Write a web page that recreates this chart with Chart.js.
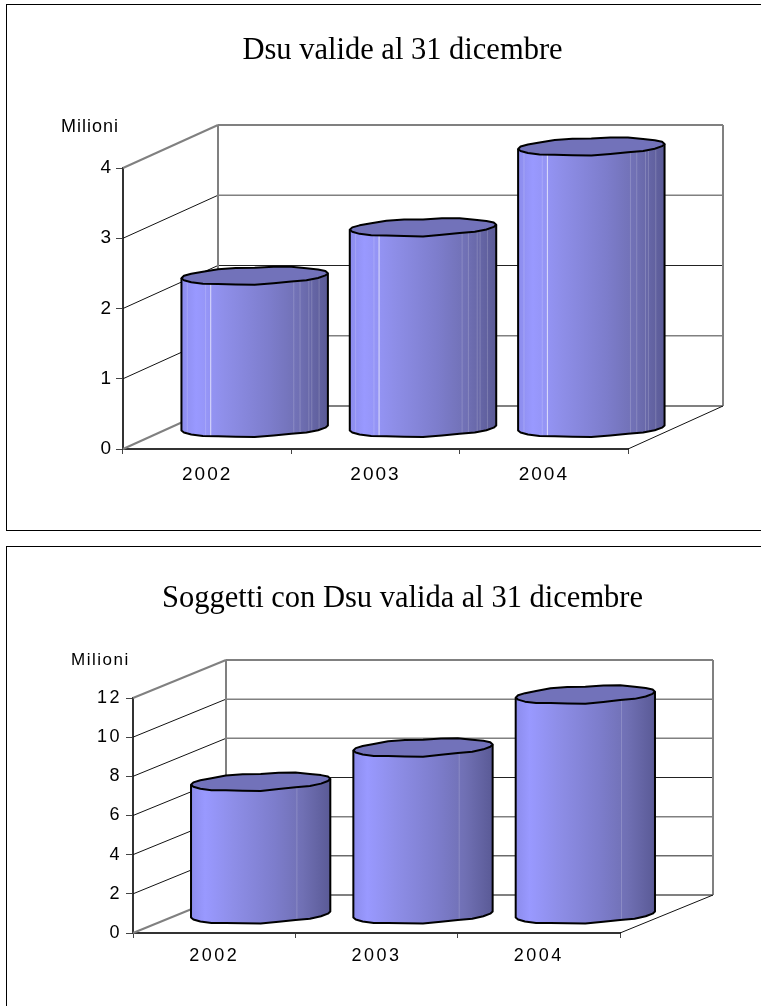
<!DOCTYPE html>
<html>
<head>
<meta charset="utf-8">
<title>Dsu</title>
<script src="https://cdn.jsdelivr.net/npm/chart.js@4"></script>
<style>
    html, body { margin: 0; padding: 0; background: #fff; width: 761px; height: 1006px; overflow: hidden; }
    canvas { position: absolute; left: 0; }
    .frame { position: absolute; left: 6px; width: 900px; border: 1px solid #000; box-sizing: border-box; }
</style>
</head>
<body>
<div class="frame" style="top:4px;height:527px"></div>
<div class="frame" style="top:546px;height:600px"></div>
<canvas id="chartDsu" width="805" height="526" style="top:4px"></canvas>
<canvas id="chartSoggetti" width="805" height="460" style="top:546px"></canvas>
<script>
const years = ['2002', '2003', '2004'];
const dsuValues = [2.16, 2.85, 4.0];
const soggettiValues = [6.75, 8.5, 11.2];
const unitLabel = 'Milioni';

const cylinder3d = {
    id: 'cylinder3d',
    afterLayout(chart) {
        // title centred on the whole canvas, and without the tick letter spacing
        const tb = chart.titleBlock;
        tb.left = 0;
        tb.right = chart.width;
        const drawTitle = tb.draw;
        tb.draw = function () {
            chart.ctx.save();
            chart.ctx.letterSpacing = '0px';
            drawTitle.call(tb);
            chart.ctx.restore();
        };
    },
    beforeDraw(chart, args, opts) {
        chart.ctx.letterSpacing = opts.letterSpacing;
    },
    beforeDatasetsDraw(chart, args, opts) {
        const ctx = chart.ctx;
        const { left, right, top, bottom } = chart.chartArea;
        const yScale = chart.scales.y;
        const dx = opts.dx, dy = opts.dy;
        ctx.save();
        // inner grid: side wall and back wall
        yScale.ticks.forEach(t => {
            const y = yScale.getPixelForValue(t.value);
            const edge = t.value === yScale.min || t.value === yScale.max;
            ctx.strokeStyle = edge ? '#808080' : '#111';
            ctx.lineWidth = edge ? 2 : 1;
            ctx.beginPath();
            ctx.moveTo(left, y);
            ctx.lineTo(left + dx, y + dy);
            ctx.stroke();
            const dark = opts.darkLines.includes(t.value);
            ctx.strokeStyle = dark ? '#222' : '#808080';
            ctx.lineWidth = dark ? 1 : (edge ? 2 : 1.5);
            ctx.beginPath();
            ctx.moveTo(left + dx, y + dy);
            ctx.lineTo(right + dx, y + dy);
            ctx.stroke();
        });
        // back wall verticals
        ctx.strokeStyle = '#808080';
        ctx.lineWidth = 2;
        ctx.beginPath();
        ctx.moveTo(left + dx, top + dy);
        ctx.lineTo(left + dx, bottom + dy);
        ctx.moveTo(right + dx, top + dy);
        ctx.lineTo(right + dx, bottom + dy);
        ctx.stroke();
        // right floor edge
        ctx.strokeStyle = '#111';
        ctx.lineWidth = 1;
        ctx.beginPath();
        ctx.moveTo(right, bottom);
        ctx.lineTo(right + dx, bottom + dy);
        ctx.stroke();
        // label above the axis
        ctx.fillStyle = '#000';
        ctx.font = opts.unitFont;
        ctx.letterSpacing = opts.unitSpacing;
        ctx.textAlign = 'left';
        ctx.textBaseline = 'middle';
        ctx.fillText(unitLabel, opts.unitX, opts.unitY);
        ctx.restore();
    },
    afterDatasetsDraw(chart, args, opts) {
        const ctx = chart.ctx;
        const bars = chart.getDatasetMeta(0).data;
        bars.forEach(bar => {
            const r = bar.width / 2;
            const cx = bar.x + opts.dx / 2;
            const topY = bar.y + opts.dy / 2;
            const baseY = bar.base + opts.dy / 2 + 1;
            const rim = (cy, from, to, n) => {
                const pts = [];
                for (let i = 0; i <= n; i++) {
                    const a = from + (to - from) * i / n;
                    const wave = opts.wave * Math.sin(a * 7);
                    pts.push([cx + r * Math.cos(a), cy - (opts.ry + wave) * Math.sin(a) - opts.tilt * Math.cos(a)]);
                }
                return pts;
            };
            const front = rim(baseY, Math.PI, Math.PI * 2, opts.facets);
            const topFront = rim(topY, Math.PI, Math.PI * 2, opts.facets);

            // body
            const grad = ctx.createLinearGradient(cx - r, 0, cx + r, 0);
            grad.addColorStop(0, '#8c8cec');
            grad.addColorStop(0.1, '#9999ff');
            grad.addColorStop(0.3, '#8e8ee8');
            grad.addColorStop(0.6, '#7d7dcc');
            grad.addColorStop(0.8, '#7070b4');
            grad.addColorStop(1, '#5a5a96');
            ctx.save();
            ctx.beginPath();
            ctx.moveTo(topFront[0][0], topFront[0][1]);
            front.forEach(p => ctx.lineTo(p[0], p[1]));
            topFront.slice().reverse().forEach(p => ctx.lineTo(p[0], p[1]));
            ctx.closePath();
            ctx.fillStyle = grad;
            ctx.fill();
            ctx.clip();
            // light seams between the facets
            opts.seams.forEach((s, i) => {
                ctx.strokeStyle = i === 0 ? opts.seamFirst : 'rgba(255,255,255,0.18)';
                ctx.lineWidth = 1;
                ctx.beginPath();
                ctx.moveTo(cx - r + s * bar.width, topY - 20);
                ctx.lineTo(cx - r + s * bar.width, baseY + 20);
                ctx.stroke();
            });
            ctx.restore();

            // outline of the body
            ctx.strokeStyle = '#000';
            ctx.lineWidth = 2;
            ctx.lineJoin = 'round';
            ctx.beginPath();
            ctx.moveTo(topFront[0][0], topFront[0][1]);
            front.forEach(p => ctx.lineTo(p[0], p[1]));
            ctx.lineTo(topFront[topFront.length - 1][0], topFront[topFront.length - 1][1]);
            ctx.stroke();

            // top
            const ring = rim(topY, 0, Math.PI * 2, opts.facets * 2);
            ctx.beginPath();
            ring.forEach((p, i) => i ? ctx.lineTo(p[0], p[1]) : ctx.moveTo(p[0], p[1]));
            ctx.closePath();
            ctx.fillStyle = '#7272ba';
            ctx.fill();
            ctx.stroke();
        });
    }
};

function makeChart(id, values, maxY, step, cfg) {
    const tickFont = { family: 'Liberation Sans', size: cfg.tickSize };
    return new Chart(document.getElementById(id), {
        type: 'bar',
        plugins: [cylinder3d],
        data: {
            labels: years,
            datasets: [{ data: values, backgroundColor: 'rgba(0,0,0,0)', barPercentage: cfg.barPercentage, categoryPercentage: 1 }]
        },
        options: {
            responsive: false,
            animation: false,
            layout: { padding: cfg.padding },
            scales: {
                x: {
                    grid: { drawOnChartArea: false, tickLength: 5, color: '#444', offset: true },
                    border: { color: '#333', width: 2 },
                    ticks: { color: '#000', font: tickFont, padding: cfg.xPad, maxRotation: 0 },
                    afterFit: s => { s.height = 40; }
                },
                y: {
                    min: 0,
                    max: maxY,
                    grid: { drawOnChartArea: false, tickLength: 7, color: '#444' },
                    border: { color: '#333', width: 2 },
                    ticks: { stepSize: step, color: '#000', font: tickFont, padding: cfg.yPad },
                    afterFit: s => { s.width = 40; }
                }
            },
            plugins: {
                legend: { display: false },
                tooltip: { enabled: false },
                title: {
                    display: true,
                    text: cfg.title,
                    color: '#000',
                    font: { family: 'Liberation Serif', size: 30.5, weight: 'normal', lineHeight: 1.2 },
                    padding: cfg.titlePad
                },
                cylinder3d: cfg.cyl
            }
        }
    });
}

document.addEventListener('DOMContentLoaded', () => {
    makeChart('chartDsu', dsuValues, 4, 1, {
        title: 'Dsu valide al 31 dicembre',
        barPercentage: 0.87,
        xPad: 9,
        yPad: 3,
        tickSize: 19,
        padding: { left: 83, right: 177, top: 0, bottom: 41 },
        titlePad: { top: 28.5, bottom: 98.9 },
        cyl: {
            dx: 95, dy: -43, ry: 8.5, tilt: 2.5, facets: 12, wave: 0.6, letterSpacing: '2px',
            seams: [0.2, 0.04, 0.165, 0.767, 0.81, 0.87, 0.89, 0.94],
            seamFirst: 'rgba(255,255,255,0.7)',
            darkLines: [2], unitFont: '18px "Liberation Sans"', unitSpacing: '1px', unitX: 61, unitY: 123
        }
    });
    makeChart('chartSoggetti', soggettiValues, 12, 2, {
        title: 'Soggetti con Dsu valida al 31 dicembre',
        barPercentage: 0.858,
        xPad: 7,
        yPad: 4,
        tickSize: 18,
        padding: { left: 93, right: 185, top: 0, bottom: 33 },
        titlePad: { top: 35, bottom: 80.4 },
        cyl: {
            dx: 93, dy: -38, ry: 8.5, tilt: 3, facets: 12, wave: 0.6, letterSpacing: '2.5px',
            seams: [0.76],
            seamFirst: 'rgba(255,255,255,0.18)',
            darkLines: [2, 6], unitFont: '17px "Liberation Sans"', unitSpacing: '1.5px', unitX: 71, unitY: 114
        }
    });
});
</script>
</body>
</html>
